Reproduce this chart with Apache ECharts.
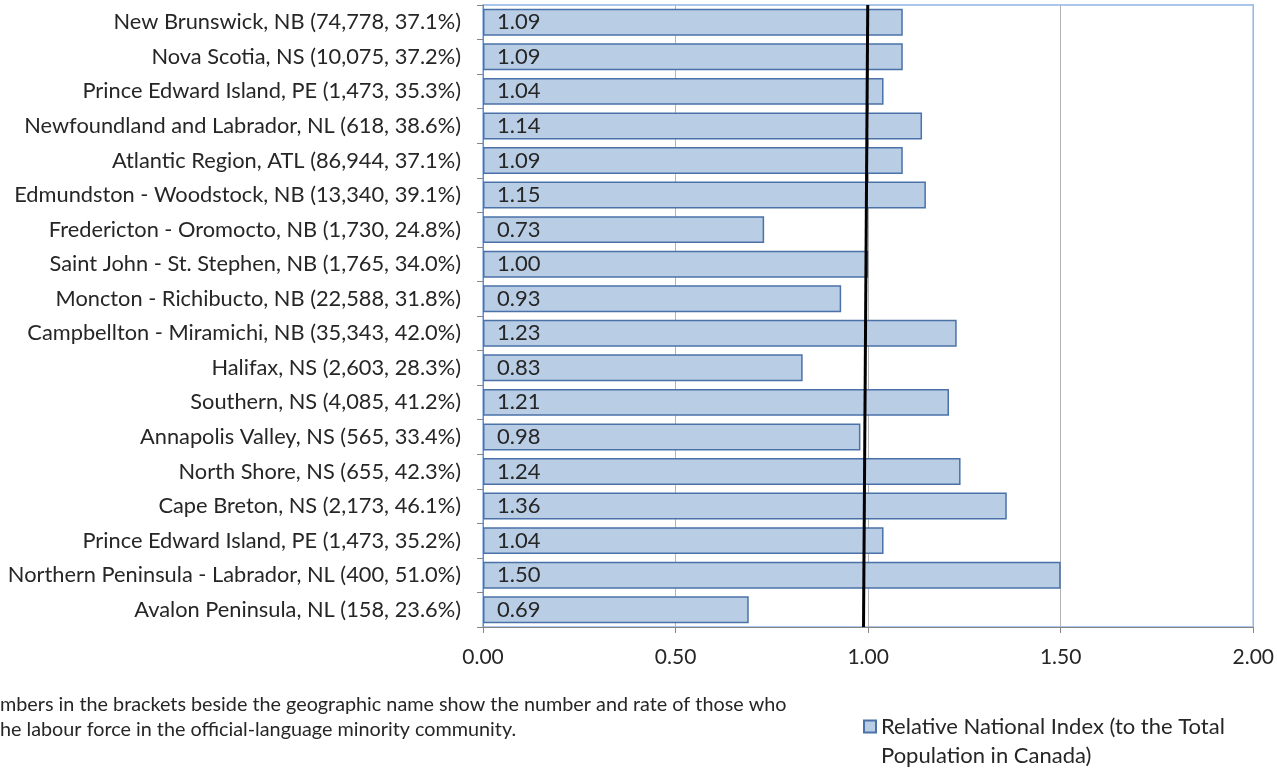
<!DOCTYPE html>
<html><head><meta charset="utf-8">
<script src="https://cdn.jsdelivr.net/npm/echarts@6/dist/echarts.min.js"></script>
<style>html,body{margin:0;padding:0;background:#fff}#c{width:1277px;height:768px}</style>
</head><body><div id="c"></div>
<script>
const categories = [
  "New Brunswick, NB (74,778, 37.1%)",
  "Nova Scotia, NS (10,075, 37.2%)",
  "Prince Edward Island, PE (1,473, 35.3%)",
  "Newfoundland and Labrador, NL (618, 38.6%)",
  "Atlantic Region, ATL (86,944, 37.1%)",
  "Edmundston - Woodstock, NB (13,340, 39.1%)",
  "Fredericton - Oromocto, NB (1,730, 24.8%)",
  "Saint John - St. Stephen, NB (1,765, 34.0%)",
  "Moncton - Richibucto, NB (22,588, 31.8%)",
  "Campbellton - Miramichi, NB (35,343, 42.0%)",
  "Halifax, NS (2,603, 28.3%)",
  "Southern, NS (4,085, 41.2%)",
  "Annapolis Valley, NS (565, 33.4%)",
  "North Shore, NS (655, 42.3%)",
  "Cape Breton, NS (2,173, 46.1%)",
  "Prince Edward Island, PE (1,473, 35.2%)",
  "Northern Peninsula - Labrador, NL (400, 51.0%)",
  "Avalon Peninsula, NL (158, 23.6%)"
];
const indexValues = [1.09, 1.09, 1.04, 1.14, 1.09, 1.15, 0.73, 1.00, 0.93, 1.23, 0.83, 1.21, 0.98, 1.24, 1.36, 1.04, 1.50, 0.69];
const seriesName = "Relative National Index (to the Total\nPopulation in Canada)";
const xTicks = [0, 0.5, 1.0, 1.5, 2.0];
// reference line: [x value, relative height (1 = top, 0 = bottom)]
const refLine = [[0.999, 1], [0.988, 0]];
const footnoteLines = [
  "mbers in the brackets beside the geographic name show the number and rate of those who",
  "he labour force in the official-language minority community."
];

const FONT = "Lato";
const chart = echarts.init(document.getElementById('c'), null, {renderer: 'canvas'});
chart.setOption({
  animation: false,
  backgroundColor: '#fff',
  grid: {left: 483, right: 23, top: 5, bottom: 141, show: true, borderColor: '#8eb4e3', borderWidth: 1.5, backgroundColor: 'transparent'},
  xAxis: {
    type: 'value', min: xTicks[0], max: xTicks[xTicks.length - 1], interval: 0.5,
    axisLine: {show: true, lineStyle: {color: '#868686', width: 1}},
    axisTick: {show: true, length: 6, lineStyle: {color: '#868686'}},
    splitLine: {show: true, lineStyle: {color: '#b3b3b3', width: 1}},
    axisLabel: {color: '#262626', fontFamily: FONT, fontSize: 21, margin: 20, formatter: v => v.toFixed(2)}
  },
  yAxis: [{
    type: 'category', data: categories, inverse: true,
    axisLine: {show: true, lineStyle: {color: '#868686', width: 1}},
    axisTick: {show: true, length: 6, lineStyle: {color: '#868686'}},
    axisLabel: {color: '#262626', fontFamily: FONT, fontSize: 21.8, margin: 22}
  }, {
    type: 'value', min: 0, max: 1, show: false
  }],
  legend: {
    left: 858, top: 678, orient: 'vertical',
    itemWidth: 12, itemHeight: 12, itemGap: 0,
    icon: 'rect',
    formatter: name => '\n' + name,
    textStyle: {color: '#262626', fontFamily: FONT, fontSize: 22, lineHeight: 29},
    data: [seriesName]
  },
  graphic: [{
    type: 'text', left: 0, top: 692,
    style: {text: footnoteLines.join('\n'), fontFamily: FONT, fontSize: 19.8, lineHeight: 25, fill: '#262626'}
  }],
  series: [{
    name: seriesName, type: 'bar', yAxisIndex: 0,
    data: indexValues, barCategoryGap: '22%',
    itemStyle: {color: '#b9cde5', borderColor: '#4a72a8', borderWidth: 1.5},
    label: {show: true, position: 'insideLeft', distance: 14, color: '#262626', fontFamily: FONT, fontSize: 22, formatter: p => p.value.toFixed(2)}
  }, {
    name: 'ref', type: 'line', yAxisIndex: 1, data: refLine,
    symbol: 'none', lineStyle: {color: '#000', width: 3}, silent: true, z: 5
  }]
});
</script></body></html>
